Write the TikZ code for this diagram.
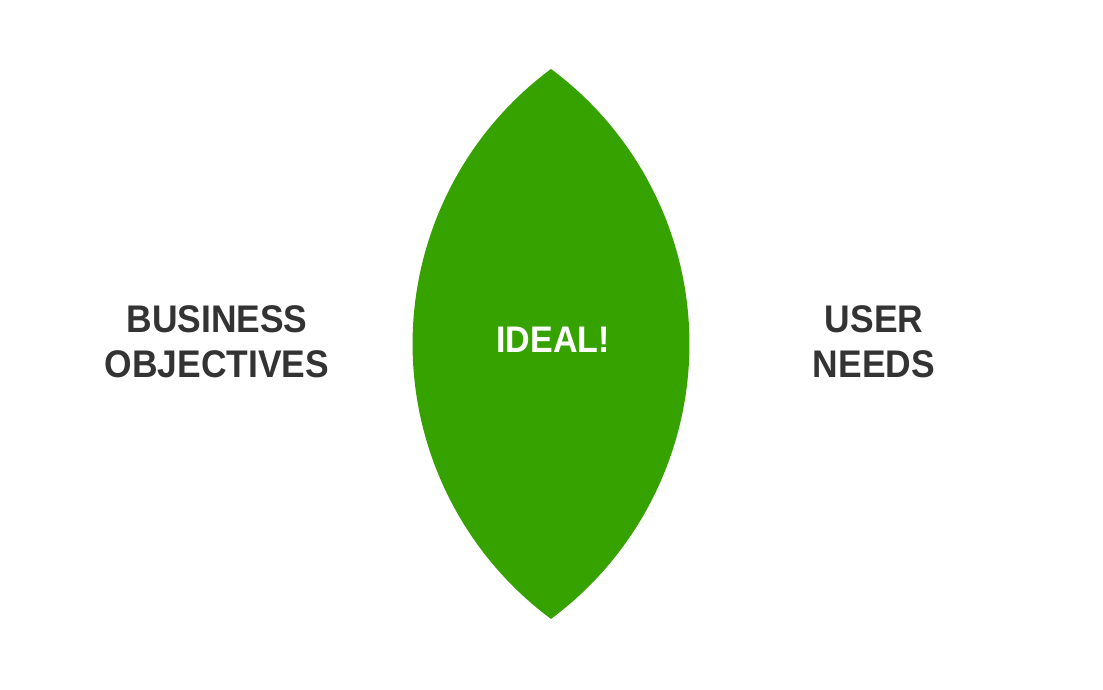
\documentclass[tikz,border=0pt]{standalone}
\usepackage{fontspec}
\setmainfont{Liberation Sans}[FakeStretch=0.92]
\usepackage{tikz}
\usetikzlibrary{calc}
\definecolor{ideal}{HTML}{36A200}
\definecolor{label}{HTML}{333333}
\tikzset{
    goal/.style = {text=label, align=center, font=\bfseries\fontsize{38.5}{45}\selectfont},
    sweet/.style = {text=white, font=\bfseries\fontsize{37}{45}\selectfont},
}
\begin{document}
\begin{tikzpicture}[x=1pt, y=1pt]
\useasboundingbox (0,0) rectangle (1103,690);
\coordinate (tip) at (551,621);
% lens of the two circles
\fill[ideal] (tip) arc[start angle=126.55, end angle=233.45, radius=342.3]
    arc[start angle=-53.45, end angle=53.45, radius=342.3] -- cycle;

\node[sweet] (I) at (553,350) {IDEAL!};
\node[goal] (B) at (217,348) {BUSINESS\\OBJECTIVES};
\node[goal] (U) at (874,348) {USER\\NEEDS};
\end{tikzpicture}
\end{document}
